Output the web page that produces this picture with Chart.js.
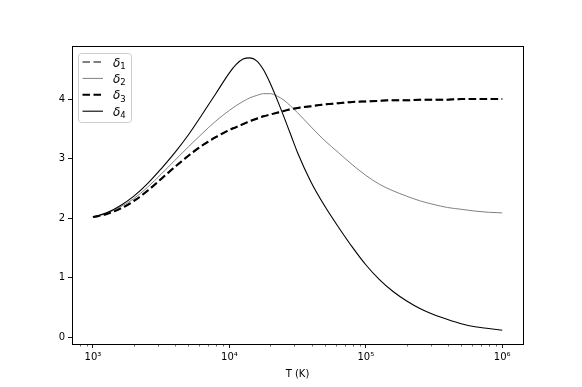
<!DOCTYPE html>
<html>
<head>
<meta charset="utf-8">
<script src="https://cdn.jsdelivr.net/npm/chart.js@4.4.1/dist/chart.umd.min.js"></script>
<style>
  html, body { margin: 0; padding: 0; background: #fff; }
  #wrap { width: 582px; height: 387px; }
</style>
</head>
<body>
<div id="wrap"><canvas id="chart" width="582" height="387"></canvas></div>
<script>
// Temperature samples (K)
const temps = [1000, 1259, 1585, 1995, 2512, 3162, 3981, 5012, 6310, 7943,
  10000, 11220, 12589, 14125, 15849, 17783, 19953, 22387, 25119, 28184,
  31623, 39811, 50119, 63096, 79433, 100000, 125893, 158489, 199526, 251189,
  316228, 398107, 501187, 630957, 794328, 1000000];

const delta1 = [2.02, 2.07, 2.16, 2.29, 2.46, 2.66, 2.86, 3.05, 3.22, 3.36,
  3.48, 3.53, 3.58, 3.63, 3.67, 3.71, 3.74, 3.77, 3.80, 3.83,
  3.85, 3.88, 3.91, 3.93, 3.95, 3.96, 3.97, 3.98, 3.98, 3.99,
  3.99, 3.99, 4.00, 4.00, 4.00, 4.00];
const delta2 = [2.02, 2.08, 2.19, 2.33, 2.52, 2.74, 2.97, 3.20, 3.42, 3.63,
  3.81, 3.89, 3.96, 4.02, 4.06, 4.09, 4.09, 4.05, 3.98, 3.88,
  3.77, 3.53, 3.30, 3.10, 2.90, 2.72, 2.57, 2.46, 2.37, 2.29,
  2.23, 2.18, 2.15, 2.12, 2.10, 2.09];
const delta3 = delta1.slice();
const delta4 = [2.02, 2.09, 2.21, 2.37, 2.58, 2.83, 3.10, 3.40, 3.74, 4.09,
  4.44, 4.58, 4.67, 4.69, 4.64, 4.49, 4.26, 3.99, 3.70, 3.40,
  3.10, 2.60, 2.20, 1.85, 1.52, 1.22, 0.97, 0.77, 0.61, 0.48,
  0.38, 0.30, 0.23, 0.18, 0.15, 0.12];

const xMajor = [1e3, 1e4, 1e5, 1e6];
const xLabels = ["10³", "10⁴", "10⁵", "10⁶"];
const yTicks = [0, 1, 2, 3, 4];

const seriesNames = ["1", "2", "3", "4"];

function pts(vals) {
  return temps.map((t, i) => ({ x: t, y: vals[i] }));
}

// frame, minor log ticks and the legend inside the axes
const extras = {
  id: "extras",
  afterDraw(chart) {
    const ctx = chart.ctx;
    const a = chart.chartArea;
    const xs = chart.scales.x;
    ctx.save();

    // minor ticks
    ctx.strokeStyle = "#000";
    ctx.lineWidth = 0.6;
    for (let e = 2; e <= 6; e++) {
      for (let m = 2; m <= 9; m++) {
        const v = m * Math.pow(10, e);
        if (v < xs.min || v > xs.max) continue;
        const px = Math.round(xs.getPixelForValue(v)) + 0.5;
        ctx.beginPath();
        ctx.moveTo(px, a.bottom);
        ctx.lineTo(px, a.bottom + 2.5);
        ctx.stroke();
      }
    }

    // frame
    ctx.lineWidth = 1;
    ctx.strokeRect(Math.round(a.left) + 0.5, Math.round(a.top) + 0.5,
      Math.round(a.right - a.left), Math.round(a.bottom - a.top));

    // legend
    const bx = a.left + 6, by = a.top + 7, bw = 53, bh = 69;
    ctx.fillStyle = "rgba(255,255,255,0.8)";
    ctx.strokeStyle = "#cccccc";
    ctx.lineWidth = 1;
    ctx.beginPath();
    ctx.roundRect(bx + 0.5, by + 0.5, bw, bh, 3);
    ctx.fill();
    ctx.stroke();

    chart.data.datasets.forEach((ds, i) => {
      const y = by + 9 + i * 16.4;
      ctx.strokeStyle = ds.borderColor;
      ctx.lineWidth = ds.borderWidth;
      ctx.setLineDash(ds.borderDash || []);
      ctx.beginPath();
      ctx.moveTo(bx + 4.5, y);
      ctx.lineTo(bx + 25, y);
      ctx.stroke();
      ctx.setLineDash([]);

      ctx.fillStyle = "#000";
      ctx.textBaseline = "alphabetic";
      ctx.font = "italic 12px 'DejaVu Sans'";
      ctx.fillText("δ", bx + 35, y + 4.5);
      const w = ctx.measureText("δ").width;
      ctx.font = "8.5px 'DejaVu Sans'";
      ctx.fillText(seriesNames[i], bx + 35 + w, y + 7);
    });
    ctx.restore();
  },
};

new Chart(document.getElementById("chart"), {
  type: "line",
  data: {
    datasets: [
      { label: "δ1", data: pts(delta1), borderColor: "#808080", borderWidth: 2, borderDash: [7.5, 3.5], order: 4 },
      { label: "δ2", data: pts(delta2), borderColor: "#808080", borderWidth: 1, order: 3 },
      { label: "δ3", data: pts(delta3), borderColor: "#000000", borderWidth: 2, borderDash: [7.5, 3.5], order: 2 },
      { label: "δ4", data: pts(delta4), borderColor: "#000000", borderWidth: 1.1, order: 1 },
    ],
  },
  options: {
    responsive: false,
    animation: false,
    layout: { padding: { left: 0, right: 59, top: 46, bottom: 0 } },
    elements: {
      point: { radius: 0 },
      line: { cubicInterpolationMode: "monotone", fill: false },
    },
    plugins: { legend: { display: false }, tooltip: { enabled: false } },
    scales: {
      x: {
        type: "logarithmic",
        min: 702,
        max: 1.42e6,
        border: { display: false },
        grid: { drawOnChartArea: false, tickLength: 4, tickColor: "#000", tickWidth: 0.9 },
        afterBuildTicks: (s) => { s.ticks = xMajor.map((v) => ({ value: v })); },
        afterFit: (s) => { s.height = 43; },
        ticks: {
          color: "#000",
          padding: 3,
          maxRotation: 0,
          autoSkip: false,
          font: { family: "DejaVu Sans", size: 10 },
          callback: (v) => xLabels[xMajor.indexOf(v)] || "",
        },
        title: {
          display: true,
          text: "T (K)",
          color: "#000",
          font: { family: "DejaVu Sans", size: 10 },
          padding: { top: 0, bottom: 7 },
        },
      },
      y: {
        min: -0.11,
        max: 4.89,
        border: { display: false },
        grid: { drawOnChartArea: false, tickLength: 4, tickColor: "#000", tickWidth: 0.9 },
        afterBuildTicks: (s) => { s.ticks = yTicks.map((v) => ({ value: v })); },
        afterFit: (s) => { s.width = 72; },
        ticks: {
          color: "#000",
          padding: 3,
          font: { family: "DejaVu Sans", size: 10 },
        },
      },
    },
  },
  plugins: [extras],
});
</script>
</body>
</html>
